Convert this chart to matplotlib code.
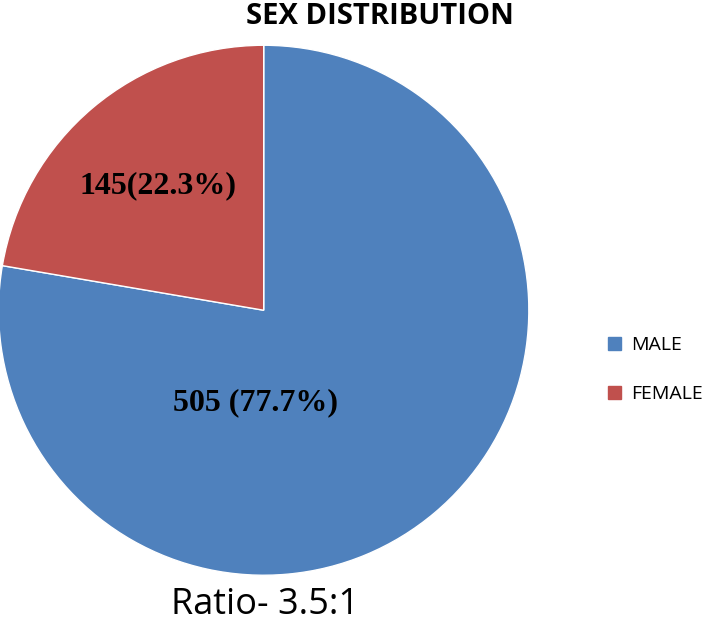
import matplotlib
matplotlib.use("Agg")
import matplotlib.pyplot as plt
from matplotlib.patches import Patch

categories = ["MALE", "FEMALE"]
counts = [505, 145]
percents = [77.7, 22.3]
labels = ["505 (77.7%)", "145(22.3%)"]
colors = ["#4f81bd", "#c0504d"]

fig = plt.figure(figsize=(7.07, 6.41), dpi=100)
ax = fig.add_axes([0.373 - 0.375, 0.516 - 0.4134, 0.75, 0.8268])
ax.pie(counts, colors=colors, startangle=90, counterclock=False,
       wedgeprops=dict(edgecolor="white", linewidth=1))
ax.set_xlim(-1, 1)
ax.set_ylim(-1, 1)
ax.set_aspect("auto")

label_pos = [(-0.03, -0.35), (-0.40, 0.47)]
for (x, y), text in zip(label_pos, labels):
    ax.text(x, y, text, ha="center", va="center", fontsize=23,
            fontweight="bold", family="Liberation Serif")

fig.text(0.537, 0.975, "SEX DISTRIBUTION", ha="center", va="center",
         fontsize=21, fontweight="bold", family="Open Sans")
fig.text(0.375, 0.056, "Ratio- 3.5:1", ha="center", va="center",
         fontsize=26, family="Open Sans")

handles = [Patch(color=c) for c in colors]
fig.legend(handles, categories, loc="center left", bbox_to_anchor=(0.835, 0.423),
           frameon=False, handlelength=0.7, handleheight=0.7, handletextpad=0.5,
           labelspacing=1.6, prop={"family": "Open Sans", "size": 14})

fig.savefig("out.png", dpi=100)
